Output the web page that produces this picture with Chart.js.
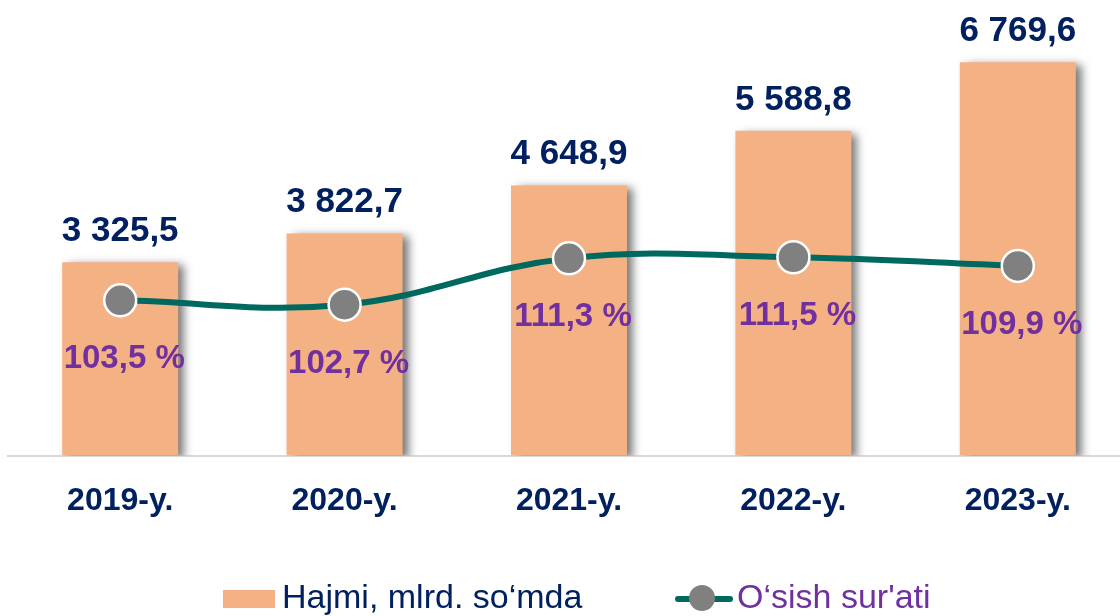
<!DOCTYPE html>
<html lang="uz">
<head>
<meta charset="UTF-8">
<title>Hajmi va o'sish sur'ati</title>
<script src="https://cdn.jsdelivr.net/npm/chart.js@4.4.0/dist/chart.umd.min.js"></script>
<style>
    html, body { margin: 0; padding: 0; background: #fff; overflow: hidden; }
    #wrap { position: relative; width: 1130px; height: 616px; }
</style>
</head>
<body>
<div id="wrap"><canvas id="chart"></canvas></div>
<script>
    var years = ['2019-y.', '2020-y.', '2021-y.', '2022-y.', '2023-y.'];
    var volume = [3325.5, 3822.7, 4648.9, 5588.8, 6769.6];
    var growth = [103.5, 102.7, 111.3, 111.5, 109.9];
    var volumeLabel = 'Hajmi, mlrd. so\u2018mda';
    var growthLabel = 'O\u2018sish sur\'ati';

    var NAVY = '#002060';
    var PURPLE = '#7030A0';
    var TEAL = '#00695F';
    var BAR = '#F4B183';

    // 3325.5 -> "3 325,5"
    function fmt(v) {
        var parts = v.toFixed(1).split('.');
        return parts[0].replace(/\B(?=(\d{3})+(?!\d))/g, ' ') + ',' + parts[1];
    }

    // shadow behind bars
    var barShadow = {
        id: 'barShadow',
        beforeDatasetDraw: function (chart, args) {
            if (args.index !== 0) return;
            var ctx = chart.ctx;
            ctx.save();
            ctx.shadowColor = 'rgba(0,0,0,0.55)';
            ctx.shadowBlur = 9;
            ctx.shadowOffsetX = 6;
            ctx.shadowOffsetY = 3;
        },
        afterDatasetDraw: function (chart, args) {
            if (args.index !== 0) return;
            chart.ctx.restore();
        }
    };

    // value labels
    var valueLabels = {
        id: 'valueLabels',
        afterDatasetsDraw: function (chart) {
            var ctx = chart.ctx;
            ctx.save();
            ctx.textAlign = 'center';
            ctx.textBaseline = 'alphabetic';
            chart.getDatasetMeta(0).data.forEach(function (bar, i) {
                ctx.font = 'bold 35px "Liberation Sans", Arial, sans-serif';
                ctx.fillStyle = NAVY;
                ctx.fillText(fmt(volume[i]), bar.x, bar.y - 21);
            });
            chart.getDatasetMeta(1).data.forEach(function (pt, i) {
                ctx.font = 'bold 33px "Liberation Sans", Arial, sans-serif';
                ctx.fillStyle = PURPLE;
                ctx.fillText(fmt(growth[i]) + ' %', pt.x + 4, pt.y + 68);
            });
            ctx.restore();
        }
    };

    // legend at the bottom
    var bottomLegend = {
        id: 'bottomLegend',
        afterDraw: function (chart) {
            var ctx = chart.ctx;
            var ds = chart.data.datasets;
            var y = 599;
            ctx.save();
            ctx.font = '34px "Liberation Sans", Arial, sans-serif';
            ctx.textBaseline = 'alphabetic';
            ctx.textAlign = 'left';

            ctx.fillStyle = ds[0].backgroundColor;
            ctx.fillRect(223, 590, 52, 18);
            ctx.fillStyle = NAVY;
            ctx.fillText(ds[0].label, 282, 608);

            ctx.strokeStyle = ds[1].borderColor;
            ctx.lineWidth = 6;
            ctx.lineCap = 'round';
            ctx.beginPath();
            ctx.moveTo(678, y);
            ctx.lineTo(730, y);
            ctx.stroke();
            ctx.fillStyle = ds[1].pointBackgroundColor;
            ctx.beginPath();
            ctx.arc(702, y - 1, 13, 0, 2 * Math.PI);
            ctx.fill();
            ctx.fillStyle = PURPLE;
            ctx.fillText(ds[1].label, 737, 608);
            ctx.restore();
        }
    };

    var ctx = document.getElementById('chart').getContext('2d');
    var chart = new Chart(ctx, {
        data: {
            labels: years,
            datasets: [{
                type: 'bar',
                label: volumeLabel,
                data: volume,
                backgroundColor: BAR,
                borderWidth: 0,
                barPercentage: 0.517,
                categoryPercentage: 1,
                yAxisID: 'y',
                order: 1
            }, {
                type: 'line',
                label: growthLabel,
                data: growth,
                borderColor: TEAL,
                borderWidth: 6,
                tension: 0.4,
                pointRadius: 16,
                pointBackgroundColor: '#808080',
                pointBorderColor: '#ffffff',
                pointBorderWidth: 2.5,
                yAxisID: 'y2',
                order: 0
            }]
        },
        options: {
            responsive: true,
            maintainAspectRatio: false,
            animation: false,
            layout: { autoPadding: false, padding: { left: 8, right: 0, top: 0, bottom: 70 } },
            plugins: {
                legend: { display: false },
                tooltip: { enabled: false }
            },
            scales: {
                x: {
                    offset: true,
                    grid: { display: false, drawTicks: false },
                    border: { display: true, color: '#d9d9d9', width: 2 },
                    ticks: {
                        color: NAVY,
                        padding: 26,
                        font: { family: '"Liberation Sans", Arial, sans-serif', size: 32, weight: 'bold' }
                    }
                },
                y: {
                    display: false,
                    min: 0,
                    max: 7840
                },
                y2: {
                    display: false,
                    min: 74.66,
                    max: 159.3
                }
            }
        },
        plugins: [barShadow, valueLabels, bottomLegend]
    });
</script>
</body>
</html>
